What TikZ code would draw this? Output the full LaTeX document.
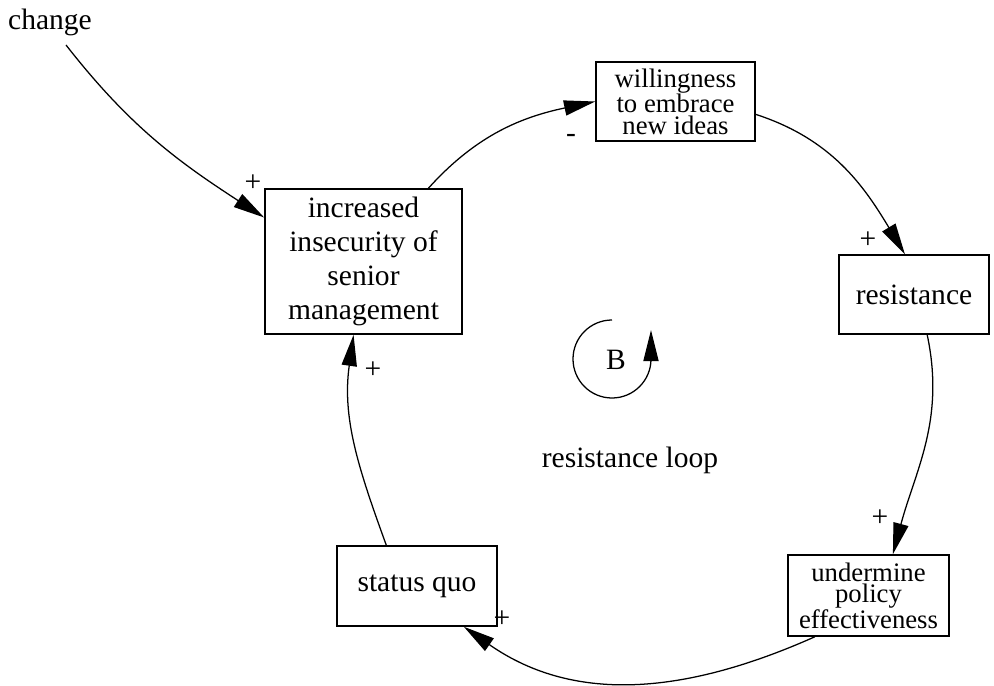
\documentclass[tikz,border=0pt]{standalone}
\usepackage{fontspec}
\setmainfont{Liberation Serif}
\usetikzlibrary{arrows.meta,calc}
\begin{document}
\begin{tikzpicture}[x=0.025cm,y=0.025cm,
  var/.style={draw,line width=1.1pt,inner sep=0pt,align=center,
    font=\fontsize{21}{24}\selectfont},
  tight/.style={font=\fontsize{19}{15}\selectfont},
  link/.style={line width=0.9pt,-{Triangle[length=0.78cm,width=0.38cm]}},
  sign/.style={font=\fontsize{21}{21}\selectfont,inner sep=0pt},
  lbl/.style={font=\fontsize{21}{24}\selectfont,inner sep=0pt}]
\useasboundingbox (0,0) rectangle (994,685);

% variables of the loop
\node[lbl] (chg) at (50,663) {change};
\node[var,minimum width=4.925cm,minimum height=3.625cm] (ins) at (363.5,423.5)
  {increased\\insecurity of\\senior\\management};
\node[var,tight,minimum width=3.975cm,minimum height=1.975cm] (will) at (675.5,583.5)
  {willingness\\to embrace\\new ideas};
\node[var,minimum width=3.75cm,minimum height=1.975cm] (res) at (914,390.5) {resistance};
\node[var,tight,minimum width=4.025cm,minimum height=2.025cm] (und) at (868.5,89.5)
  {undermine\\policy\\effectiveness};
\node[var,minimum width=4cm,minimum height=2cm] (sq) at (417,99) {status quo};

% loop identifier
\node[lbl] (bsym) at (616,325) {B};
\node[lbl] (loopname) at (630,225) {resistance loop};
\draw[link] ($(bsym)+(-4,40)$) arc[start angle=90,end angle=360,radius=39] -- ++(0,29);

% causal links
\draw[link] ($(chg.center)+(16,-23)$) to[out=-52,in=147]
  ($(ins.north west)!0.2!(ins.south west)$);
\draw[link] ($(ins.north west)!0.827!(ins.north east)$) to[out=48,in=192] (will.west);
\draw[link] ($(will.north east)!0.66!(will.south east)$) to[out=-18,in=121]
  ($(res.north west)!0.44!(res.north east)$);
\draw[link] ($(res.south west)!0.587!(res.south east)$) to[out=-78,in=75]
  ($(und.north west)!0.65!(und.north east)$);
\draw[link] ($(und.south west)!0.17!(und.south east)$) to[out=-156,in=-35]
  ($(sq.south west)!0.79!(sq.south east)$);
\draw[link] ($(sq.north west)!0.31!(sq.north east)$) to[out=110,in=-98]
  ($(ins.south west)!0.45!(ins.south east)$);

% polarities
\node[sign] (p1) at (253,502) {+};
\node[sign] (p2) at (571,547) {-};
\node[sign] (p3) at (868,445) {+};
\node[sign] (p4) at (880,167) {+};
\node[sign] (p5) at (502,66) {+};
\node[sign] (p6) at (373,315) {+};
\end{tikzpicture}
\end{document}
